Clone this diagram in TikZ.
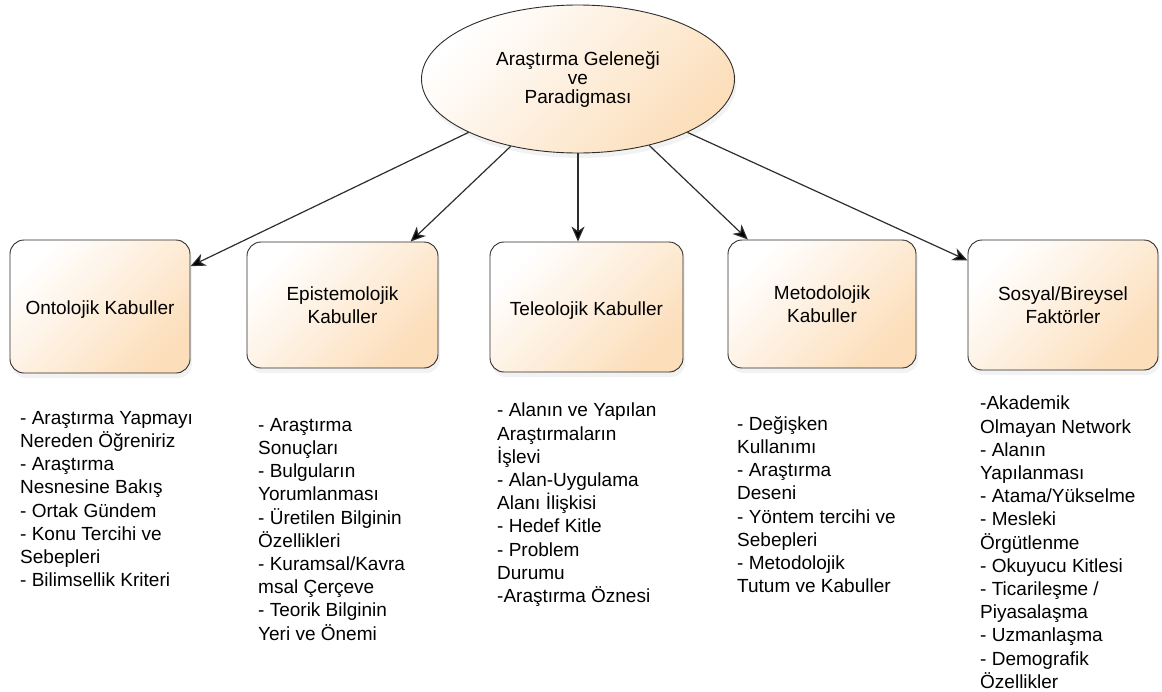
\documentclass[tikz,border=0pt]{standalone}
\usepackage{fontspec}
\setmainfont{Liberation Sans}
\usetikzlibrary{shapes.geometric,arrows.meta,shadows}
\definecolor{peach}{RGB}{252,222,186}
\definecolor{edgec}{RGB}{45,45,45}
\begin{document}
\begin{tikzpicture}[x=1pt,y=-1pt,
  fill box/.style={draw=edgec, line width=0.9pt, shade, top color=white, bottom color=peach, shading angle=45,
     drop shadow={shadow xshift=2pt, shadow yshift=-5pt, opacity=0.10}},
  box/.style={fill box, rounded corners=14pt, align=center, inner sep=0pt,
     font=\fontsize{19}{23}\selectfont},
  oval/.style={fill box, ellipse, align=center, inner sep=0pt, minimum width=313pt, minimum height=148pt,
     font=\fontsize{19}{19}\selectfont},
  list/.style={anchor=north west, align=left, inner sep=0pt, font=\fontsize{19}{23.2}\selectfont},
  conn/.style={draw=edgec, line width=1.2pt, -{Stealth[length=15pt,width=13pt,inset=4.5pt,fill=black]}}
]
\useasboundingbox (0,0) rectangle (1162,691);

\node[oval] (e) at (578,79) {Araştırma Geleneği\\ve\\Paradigması};

\node[box, minimum width=180pt, minimum height=133pt] (o) at (100,306.5) {\raisebox{-8pt}[0pt][0pt]{Ontolojik Kabuller}};
\node[box, minimum width=191pt, minimum height=126pt] (p) at (342.5,305) {Epistemolojik\\Kabuller};
\node[box, minimum width=193pt, minimum height=130pt] (t) at (586.5,307) {\raisebox{-8pt}[0pt][0pt]{Teleolojik Kabuller}};
\node[box, minimum width=188pt, minimum height=128pt] (m) at (822,304) {Metodolojik\\Kabuller};
\node[box, minimum width=190pt, minimum height=130pt] (s) at (1063,305) {Sosyal/Bireysel\\Faktörler};

\draw[conn] (e.206) -- (o.24.5);
\draw[conn] (e.225) -- (p.43.7);
\draw[conn] (e.270) -- (e.270 |- t.north);
\draw[conn] (e.317) -- (m.139);
\draw[conn] (e.334) -- (s.155.6);

\node[list] (l1) at (20,411) {- Araştırma Yapmayı\\Nereden Öğreniriz\\- Araştırma\\Nesnesine Bakış\\- Ortak Gündem\\- Konu Tercihi ve\\Sebepleri\\- Bilimsellik Kriteri};
\node[list] (l2) at (258,418) {- Araştırma\\Sonuçları\\- Bulguların\\Yorumlanması\\- Üretilen Bilginin\\Özellikleri\\- Kuramsal/Kavra\\msal Çerçeve\\- Teorik Bilginin\\Yeri ve Önemi};
\node[list] (l3) at (497,403) {- Alanın ve Yapılan\\Araştırmaların\\İşlevi\\- Alan-Uygulama\\Alanı İlişkisi\\- Hedef Kitle\\- Problem\\Durumu\\-Araştırma Öznesi};
\node[list] (l4) at (737,416) {- Değişken\\Kullanımı\\- Araştırma\\Deseni\\- Yöntem tercihi ve\\Sebepleri\\- Metodolojik\\Tutum ve Kabuller};
\node[list] (l5) at (980,396) {-Akademik\\Olmayan Network\\- Alanın\\Yapılanması\\- Atama/Yükselme\\- Mesleki\\Örgütlenme\\- Okuyucu Kitlesi\\- Ticarileşme /\\Piyasalaşma\\- Uzmanlaşma\\- Demografik\\Özellikler};
\end{tikzpicture}
\end{document}
